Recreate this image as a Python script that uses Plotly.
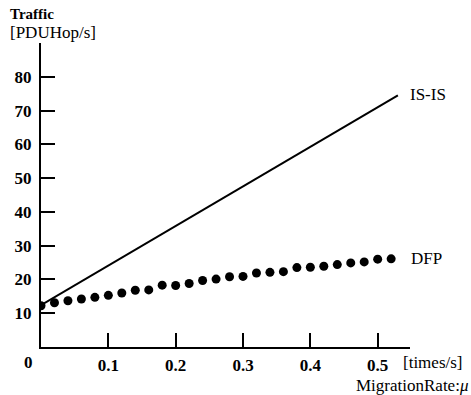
import plotly.graph_objects as go

mu_isis = [0.0, 0.53]
traffic_isis = [12.4, 74.5]

mu_dfp = [0.00, 0.02, 0.04, 0.06, 0.08, 0.10, 0.12, 0.14, 0.16, 0.18, 0.20, 0.22, 0.24,
          0.26, 0.28, 0.30, 0.32, 0.34, 0.36, 0.38, 0.40, 0.42, 0.44, 0.46, 0.48, 0.50, 0.52]
traffic_dfp = [12.2, 13.1, 13.7, 14.2, 14.7, 15.3, 16.0, 16.8, 16.9, 18.3, 18.2, 18.8, 19.7,
               20.1, 20.8, 20.9, 21.9, 22.1, 22.3, 23.5, 23.6, 23.9, 24.4, 24.9, 25.2, 26.0, 26.1]

x_ticks = [0.1, 0.2, 0.3, 0.4, 0.5]
x_ticklabels = ["0.1", "0.2", "0.3", "0.4", "0.5"]
y_ticks = [10, 20, 30, 40, 50, 60, 70, 80]
y_ticklabels = ["10", "20", "30", "40", "50", "60", "70", "80"]

FONT = "Liberation Serif"
L, R, T, B = 41, 61, 43, 48
W, H = 471, 395

fig = go.Figure()
fig.add_trace(go.Scatter(x=mu_isis, y=traffic_isis, mode="lines",
                         line=dict(color="black", width=2), showlegend=False))
fig.add_trace(go.Scatter(x=mu_dfp, y=traffic_dfp, mode="markers",
                         marker=dict(color="black", size=9), showlegend=False))

fig.update_layout(
    width=W, height=H,
    margin=dict(l=L, r=R, t=T, b=B),
    plot_bgcolor="white", paper_bgcolor="white",
    font=dict(family=FONT, color="black", size=16),
    xaxis=dict(range=[0, 0.548], tickvals=x_ticks, ticktext=x_ticklabels, automargin=False,
               showline=True, linecolor="black", linewidth=2, showgrid=False, zeroline=False,
               ticks="inside", ticklen=14, tickwidth=2, tickcolor="black",
               tickfont=dict(family=FONT, size=17, weight="bold"), ticklabelstandoff=2),
    yaxis=dict(range=[0, 90], tickvals=y_ticks, ticktext=y_ticklabels, automargin=False,
               showline=True, linecolor="black", linewidth=2, showgrid=False, zeroline=False,
               ticks="inside", ticklen=14, tickwidth=2, tickcolor="black",
               tickfont=dict(family=FONT, size=17, weight="bold"), ticklabelstandoff=4),
)

annotations = [
    dict(text="<b>Traffic</b>", x=8, y=4, xanchor="left", yanchor="top", size=15),
    dict(text="[PDUHop/s]", x=8, y=21, xanchor="left", yanchor="top", size=17),
    dict(text="<b>0</b>", x=28, y=362, xanchor="center", yanchor="middle", size=17),
    dict(text="[times/s]", x=401, y=362, xanchor="left", yanchor="middle", size=17),
    dict(text="MigrationRate:<i>μ</i>", x=470, y=374, xanchor="right", yanchor="top", size=17),
    dict(text="IS-IS", x=408, y=94, xanchor="left", yanchor="middle", size=17),
    dict(text="DFP", x=409, y=258, xanchor="left", yanchor="middle", size=17),
]
for a in annotations:
    fig.add_annotation(xref="paper", yref="paper", showarrow=False,
                       x=(a["x"] - L) / (W - L - R), y=1 - (a["y"] - T) / (H - T - B),
                       text=a["text"], xanchor=a["xanchor"], yanchor=a["yanchor"],
                       font=dict(family=FONT, color="black", size=a["size"]))

fig.write_html("out.html", config={"displayModeBar": False},
               post_script="document.body.style.margin='0';")
